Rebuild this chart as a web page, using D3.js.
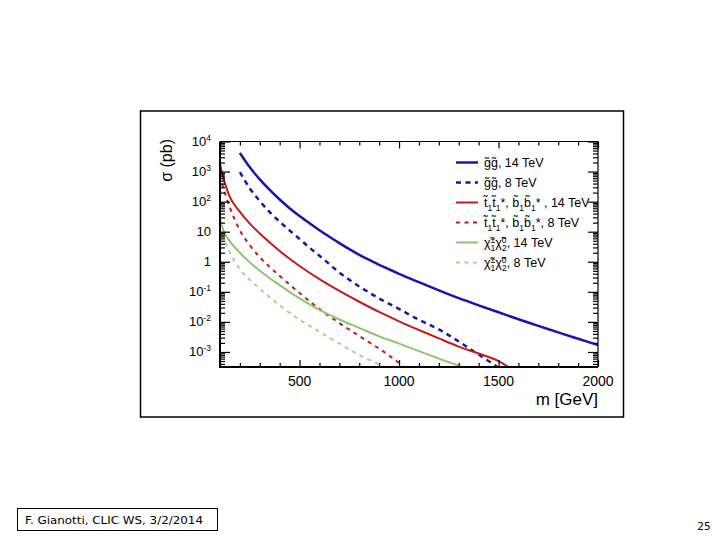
<!DOCTYPE html>
<html><head><meta charset="utf-8">
<script src="https://cdn.jsdelivr.net/npm/d3@7"></script>
<style>body{margin:0;background:#fff}svg{display:block}</style>
</head><body><svg id="c" width="720" height="540"></svg>
<script>
// ---------------- data (σ in pb vs mass in GeV) ----------------
const massGG14 = [200,250,300,350,400,450,500,550,600,650,700,750,800,850,900,950,1000,1100,1200,1300,1400,1500,1600,1700,1800,1900,2000];
const xsGG14   = [4169,1380,550,245,117.5,60.3,33.1,19.05,11.2,6.76,4.17,2.63,1.70,1.148,0.794,0.562,0.398,0.209,0.112,0.0617,0.0355,0.0209,0.0123,0.00741,0.00447,0.00275,0.0017];

const massGG8 = [200,250,300,350,400,450,500,550,600,650,700,750,800,900,1000,1100,1200,1300,1350,1400,1450,1500];
const xsGG8   = [955,275,105,44.7,21.4,11.0,5.75,2.95,1.58,0.832,0.437,0.251,0.151,0.0603,0.0269,0.01175,0.00562,0.00224,0.00135,0.00083,0.0005,0.0003];

const massST14 = [100,125,150,200,250,300,350,400,450,500,600,700,800,900,1000,1100,1200,1300,1400,1500,1560];
const xsST14   = [1778,398,141,45.7,18.6,8.71,4.37,2.29,1.26,0.724,0.263,0.107,0.0468,0.0214,0.01047,0.00537,0.00282,0.00151,0.00089,0.0005,0.00029];

const massST8 = [110,150,200,250,300,350,400,450,500,550,600,650,700,750,800,850,900,950,1000,1030];
const xsST8   = [398,63.1,11.0,3.55,1.41,0.676,0.339,0.174,0.0912,0.049,0.0269,0.0155,0.00912,0.0055,0.00339,0.00209,0.00129,0.000759,0.000427,0.000282];

const massCN14 = [100,125,150,200,250,300,350,400,500,600,700,800,900,1000,1100,1200,1300,1330];
const xsCN14   = [24.5,8.32,4.79,2.0,0.955,0.501,0.282,0.166,0.0603,0.0251,0.012,0.0063,0.00331,0.0019,0.00107,0.0006,0.000347,0.00029];

const massCN8 = [110,150,200,250,300,350,400,500,600,700,800,900,940];
const xsCN8   = [7.94,2.0,0.562,0.251,0.126,0.0661,0.0355,0.01175,0.00468,0.0019,0.000794,0.00038,0.00029];

const seriesLabels = [
  "g\u0303g\u0303, 14 TeV",
  "g\u0303g\u0303, 8 TeV",
  "t\u0303_1t\u0303_1*, b\u0303_1b\u0303_1* , 14 TeV",
  "t\u0303_1t\u0303_1*, b\u0303_1b\u0303_1*, 8 TeV",
  "\u03c7\u0303^\u00b1_1\u03c7\u0303^0_2, 14 TeV",
  "\u03c7\u0303^\u00b1_1\u03c7\u0303^0_2, 8 TeV"
];
const xTickValues = [500,1000,1500,2000];
const yTickExponents = [-3,-2,-1,0,1,2,3,4];
const xAxisTitle = "m [GeV]";
const yAxisTitle = "\u03c3 (pb)";
const footerText = "F. Gianotti, CLIC WS, 3/2/2014";
const pageNumber = "25";

// ---------------- drawing ----------------
const svg = d3.select('#c');
const FONT = "'Liberation Sans', Arial, Helvetica, sans-serif";
const plot = {l:220, r:598, t:141.5, b:367};
const x = d3.scaleLinear().domain([100,2000]).range([plot.l, plot.r]);
const y = d3.scaleLog().domain([Math.pow(10,-3.5), 1e4]).range([plot.b, plot.t]);

// outer frame
svg.append('rect').attr('x',140.5).attr('y',111).attr('width',483).attr('height',306)
  .attr('fill','none').attr('stroke','#000').attr('stroke-width',1.5);

const colors = {blue:'#1616b0', red:'#c41a1a', green:'#8cc66c', green2:'#a6d48c'};
const series = [
  {m:massGG14, s:xsGG14, color:colors.blue, dash:null, w:2.5},
  {m:massGG8,  s:xsGG8,  color:colors.blue, dash:'5,4.5', w:2.5},
  {m:massST14, s:xsST14, color:colors.red, dash:null, w:2},
  {m:massST8,  s:xsST8,  color:colors.red, dash:'4,4.5', w:2},
  {m:massCN14, s:xsCN14, color:colors.green, dash:null, w:2},
  {m:massCN8,  s:xsCN8,  color:colors.green2, dash:'4,4.5', w:2}
];

svg.append('clipPath').attr('id','clip').append('rect')
  .attr('x',plot.l).attr('y',plot.t).attr('width',plot.r-plot.l).attr('height',plot.b-plot.t);

const line = d3.line().x(d=>x(d[0])).y(d=>y(d[1])).curve(d3.curveMonotoneX);
const g = svg.append('g').attr('clip-path','url(#clip)');
series.forEach(sr=>{
  g.append('path').datum(sr.m.map((m,i)=>[m, sr.s[i]]))
    .attr('d', line).attr('fill','none').attr('stroke', sr.color)
    .attr('stroke-width', sr.w).attr('stroke-dasharray', sr.dash);
});

// axes
const minorX = d3.range(100, 2001, 100).filter(v=>!xTickValues.includes(v));
const minorY = [];
for (let e=-4; e<4; e++) for (let k=2; k<10; k++){ const v=k*Math.pow(10,e); if (v>=y.domain()[0] && v<=1e4) minorY.push(v); }
const majorY = yTickExponents.map(e=>Math.pow(10,e));

function axis(gen, tx, ty){
  const a = svg.append('g').attr('transform',`translate(${tx},${ty})`).call(gen);
  a.select('.domain').remove();
  a.selectAll('line').attr('stroke','#000').attr('stroke-width',1.2);
  return a;
}
axis(d3.axisBottom(x).tickValues(xTickValues).tickSize(-7).tickFormat(''), 0, plot.b);
axis(d3.axisBottom(x).tickValues(minorX).tickSize(-4).tickFormat(''), 0, plot.b);
axis(d3.axisTop(x).tickValues(xTickValues).tickSize(-7).tickFormat(''), 0, plot.t);
axis(d3.axisTop(x).tickValues(minorX).tickSize(-4).tickFormat(''), 0, plot.t);
axis(d3.axisLeft(y).tickValues(majorY).tickSize(-10).tickFormat(''), plot.l, 0);
axis(d3.axisLeft(y).tickValues(minorY).tickSize(-5).tickFormat(''), plot.l, 0);
axis(d3.axisRight(y).tickValues(majorY).tickSize(-10).tickFormat(''), plot.r, 0);
axis(d3.axisRight(y).tickValues(minorY).tickSize(-5).tickFormat(''), plot.r, 0);

// frame lines
svg.append('line').attr('x1',plot.l).attr('x2',plot.l).attr('y1',plot.t).attr('y2',plot.b).attr('stroke','#000').attr('stroke-width',2);
svg.append('line').attr('x1',plot.l-1).attr('x2',plot.r).attr('y1',plot.b).attr('y2',plot.b).attr('stroke','#000').attr('stroke-width',2);
svg.append('line').attr('x1',plot.l).attr('x2',plot.r).attr('y1',plot.t).attr('y2',plot.t).attr('stroke','#000').attr('stroke-width',1);
svg.append('line').attr('x1',plot.r).attr('x2',plot.r).attr('y1',plot.t).attr('y2',plot.b).attr('stroke','#000').attr('stroke-width',1.2);

// x tick labels
svg.append('g').selectAll('text').data(xTickValues).join('text')
  .attr('x', d=>x(d)).attr('y', plot.b+19).attr('text-anchor','middle')
  .attr('font-family',FONT).attr('font-size',14).attr('fill','#000').text(d=>d);

// y tick labels
const yl = svg.append('g').selectAll('text').data(yTickExponents).join('text')
  .attr('x', 211).attr('y', d=>y(Math.pow(10,d))+4.5).attr('text-anchor','end')
  .attr('font-family',FONT).attr('font-size',13).attr('fill','#000');
yl.each(function(e){
  const t = d3.select(this);
  if (e===0) t.text('1');
  else if (e===1) t.text('10');
  else { t.append('tspan').text('10'); t.append('tspan').attr('font-size',8.5).attr('dy',-5.5).text(e); }
});

// axis titles
svg.append('text').attr('transform','translate(172,139) rotate(-90)').attr('text-anchor','end')
  .attr('font-family',FONT).attr('font-size',16).attr('fill','#000').text(yAxisTitle);
svg.append('text').attr('x',598).attr('y',405).attr('text-anchor','end')
  .attr('font-family',FONT).attr('font-size',17).attr('fill','#000').text(xAxisTitle);

// legend
function richText(sel, str, size){
  const tokens = str.match(/\^.|_.|[^\^_]+/gu);
  let off = 0, prevSup = false;
  tokens.forEach(tok=>{
    let target = 0, txt = tok, fs = size, dx = 0, isSup = false;
    if (tok[0]==='^'){ target=-4.5; txt=tok.slice(1); fs=size*0.68; isSup=true; }
    else if (tok[0]==='_'){ target=3.5; txt=tok.slice(1); fs=size*0.68; if (prevSup) dx=-fs*0.55; }
    sel.append('tspan').attr('dy', target-off).attr('dx', dx).attr('font-size', fs).text(txt);
    off = target; prevSup = isSup;
  });
}
const leg = svg.append('g');
series.forEach((sr,i)=>{
  const ly = 162.5 + 20*i;
  leg.append('line').attr('x1',456).attr('x2',478).attr('y1',ly).attr('y2',ly)
    .attr('stroke',sr.color).attr('stroke-width',sr.w).attr('stroke-dasharray',sr.dash);
  const t = leg.append('text').attr('x',484).attr('y',ly+4.5)
    .attr('font-family',FONT).attr('font-size',12.5).attr('fill','#000');
  richText(t, seriesLabels[i], 12.5);
});

// footer
svg.append('rect').attr('x',17.5).attr('y',508.5).attr('width',200).attr('height',22)
  .attr('fill','none').attr('stroke','#000').attr('stroke-width',1);
svg.append('text').attr('x',25).attr('y',524).attr('font-family',"'DejaVu Sans', sans-serif")
  .attr('font-size',10.5).attr('textLength',178).attr('lengthAdjust','spacingAndGlyphs').text(footerText);
svg.append('text').attr('x',704).attr('y',530).attr('text-anchor','middle')
  .attr('font-family',"'DejaVu Sans', sans-serif").attr('font-size',10.5).text(pageNumber);
</script></body></html>
